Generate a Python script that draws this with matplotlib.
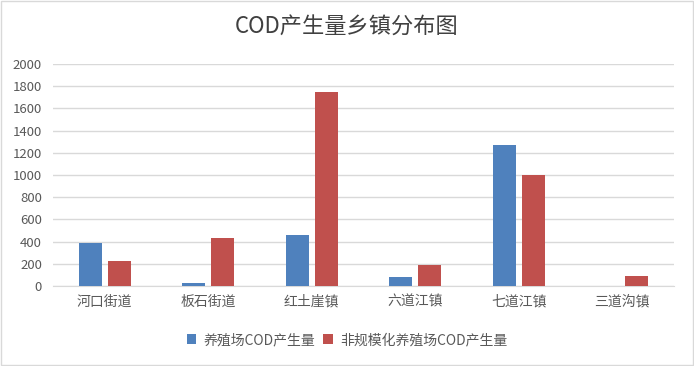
import matplotlib
matplotlib.use("Agg")
import matplotlib.pyplot as plt
import numpy as np
from matplotlib.patches import Rectangle

plt.rcParams['font.family'] = ['Noto Sans CJK SC', 'DejaVu Sans']

categories = ["河口街道", "板石街道", "红土崖镇", "六道江镇", "七道江镇", "三道沟镇"]
farm_cod = [388, 28, 462, 83, 1272, 0]
nonscale_cod = [228, 435, 1750, 193, 1003, 93]
series_names = ["养殖场COD产生量", "非规模化养殖场COD产生量"]
yticks = [0, 200, 400, 600, 800, 1000, 1200, 1400, 1600, 1800, 2000]
title = "COD产生量乡镇分布图"

blue = "#4F81BD"
red = "#C0504D"
txt = "#595959"

fig = plt.figure(figsize=(6.94, 3.66), dpi=100)
fig.patches.append(Rectangle((0.001, 0.002), 0.997, 0.995, transform=fig.transFigure,
                             fill=False, edgecolor="#D9D9D9", linewidth=1))
ax = fig.add_axes([53/694, 1-286/366, (674-53)/694, (286-64)/366])

x = np.arange(len(categories))
w = 0.222
gap = 0.058
ax.bar(x - (w+gap)/2, farm_cod, w, color=blue, label=series_names[0], zorder=3)
ax.bar(x + (w+gap)/2, nonscale_cod, w, color=red, label=series_names[1], zorder=3)

ax.set_xlim(-0.5, len(categories)-0.5)
ax.set_ylim(0, 2000)
ax.set_yticks(yticks)
ax.set_yticklabels([str(v) for v in yticks])
ax.set_xticks(x)
ax.set_xticklabels(categories)
ax.yaxis.grid(True, color="#D9D9D9", linewidth=1, zorder=0)
ax.set_axisbelow(True)
for s in ["top", "right", "left"]:
    ax.spines[s].set_visible(False)
ax.spines["bottom"].set_color("#D9D9D9")
ax.tick_params(axis="both", length=0, colors=txt, labelsize=9.5)
ax.tick_params(axis="x", pad=6, labelsize=10)
ax.tick_params(axis="y", pad=8)

fig.text(0.5, 1-27/366, title, ha="center", va="center", fontsize=16, color="#404040")

leg = fig.legend(loc="center", bbox_to_anchor=(0.5, 1-340/366), ncol=2, frameon=False,
                 fontsize=10, handlelength=0.7, handleheight=0.7, handletextpad=0.5,
                 columnspacing=0.6, labelcolor=txt)

fig.savefig("out.png", dpi=100)
